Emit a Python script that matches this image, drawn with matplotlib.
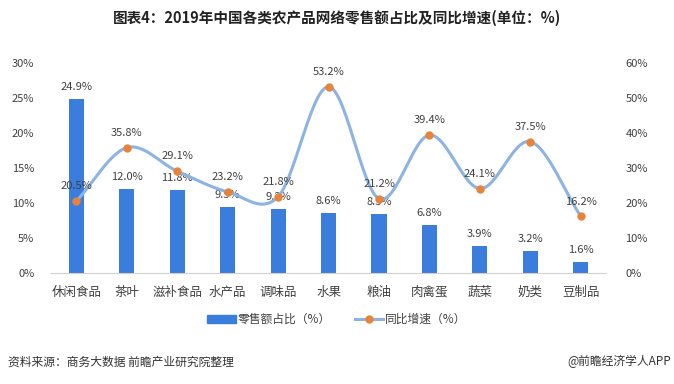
import numpy as np
import matplotlib
matplotlib.use("Agg")
import matplotlib.pyplot as plt
from matplotlib.lines import Line2D
from matplotlib.patches import Patch

plt.rcParams['font.family'] = ['Noto Sans CJK SC', 'DejaVu Sans']

#data
categories = ["休闲食品", "茶叶", "滋补食品", "水产品", "调味品", "水果", "粮油", "肉禽蛋", "蔬菜", "奶类", "豆制品"]
share = [24.9, 12.0, 11.8, 9.5, 9.2, 8.6, 8.5, 6.8, 3.9, 3.2, 1.6]
growth = [20.5, 35.8, 29.1, 23.2, 21.8, 53.2, 21.2, 39.4, 24.1, 37.5, 16.2]
left_ticks = [0, 5, 10, 15, 20, 25, 30]
right_ticks = [0, 10, 20, 30, 40, 50, 60]

bar_color = "#3a7ddc"
line_color = "#8db3e2"
dot_color = "#e8833a"
text_color = "#404040"


def smooth(x, y, n=30):
    # catmull-rom style curve through the points, like excel's smoothed line
    x = np.asarray(x, float)
    y = np.asarray(y, float)
    px = np.concatenate([[2 * x[0] - x[1]], x, [2 * x[-1] - x[-2]]])
    py = np.concatenate([[2 * y[0] - y[1]], y, [2 * y[-1] - y[-2]]])
    xs, ys = [], []
    t = np.linspace(0, 1, n)
    for i in range(1, len(px) - 2):
        for p, out in ((px, xs), (py, ys)):
            p0, p1, p2, p3 = p[i - 1], p[i], p[i + 1], p[i + 2]
            out.extend(0.5 * ((2 * p1) + (-p0 + p2) * t
                              + (2 * p0 - 5 * p1 + 4 * p2 - p3) * t ** 2
                              + (-p0 + 3 * p1 - 3 * p2 + p3) * t ** 3))
    return np.array(xs), np.array(ys)


fig = plt.figure(figsize=(6.74, 3.84), dpi=100)
ax = fig.add_axes([0.0757, 0.289, 0.8235, 0.547])
ax2 = ax.twinx()

x = np.arange(len(categories))
ax.bar(x, share, width=0.3, color=bar_color, zorder=2)
for xi, v in zip(x, share):
    ax.text(xi, v + 1.0, f"{v}%", ha="center", va="bottom", fontsize=8, color=text_color)

sx, sy = smooth(x, growth)
ax2.plot(sx, sy, color=line_color, lw=2.2, zorder=3)
ax2.plot(x, growth, "o", color=dot_color, ms=5, zorder=4)
for xi, v in zip(x, growth):
    ax2.text(xi, v + 2.8, f"{v}%", ha="center", va="bottom", fontsize=8, color=text_color)

ax.set_xlim(-0.5, len(categories) - 0.5)
ax.set_ylim(0, 30)
ax2.set_ylim(0, 60)
ax.set_yticks(left_ticks)
ax.set_yticklabels([f"{t}%" for t in left_ticks])
ax2.set_yticks(right_ticks)
ax2.set_yticklabels([f"{t}%" for t in right_ticks])
ax.set_xticks(x)
ax.set_xticklabels(categories)

for a in (ax, ax2):
    for s in a.spines.values():
        s.set_visible(False)
    a.tick_params(length=0, labelsize=8, colors=text_color)
ax.spines["bottom"].set_visible(True)
ax.spines["bottom"].set_color("#d0d0d0")
ax.tick_params(axis="y", pad=12)
ax2.tick_params(axis="y", pad=14)
ax.tick_params(axis="x", labelsize=9, pad=9)

fig.text(0.5, 0.953, "图表4：2019年中国各类农产品网络零售额占比及同比增速(单位：%)",
         ha="center", va="center", fontsize=10.5, fontweight="bold", color="#222222")

handles = [Patch(color=bar_color),
           Line2D([], [], color=line_color, lw=2.2, marker="o", mfc=dot_color, mec=dot_color, ms=5)]
fig.legend(handles, ["零售额占比（%）", "同比增速（%）"], loc="center", bbox_to_anchor=(0.5, 0.168),
           ncol=2, frameon=False, fontsize=8.5, handlelength=2.4, columnspacing=2.0,
           handletextpad=0.2, labelcolor=text_color)

fig.text(0.012, 0.058, "资料来源：商务大数据 前瞻产业研究院整理", ha="left", va="center", fontsize=8.5, color="#333333")
fig.text(0.995, 0.058, "@前瞻经济学人APP", ha="right", va="center", fontsize=8.5, color="#333333")

fig.savefig("out.png", dpi=100)
